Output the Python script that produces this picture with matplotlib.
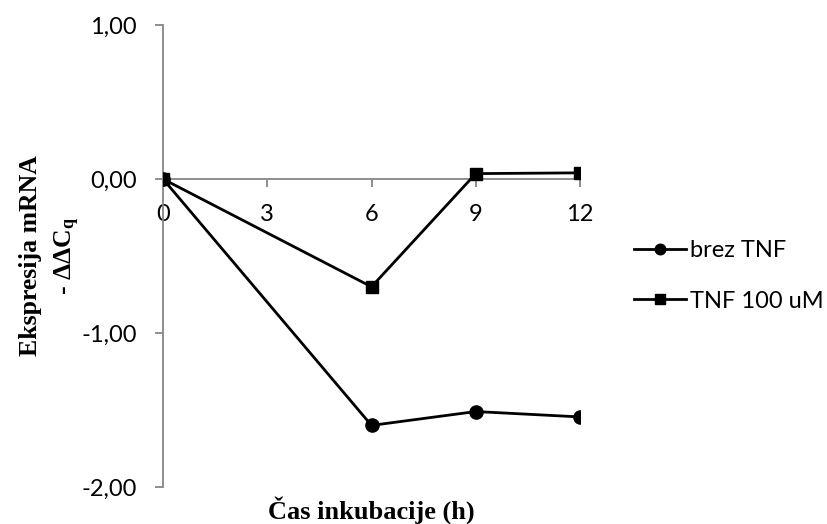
import matplotlib
matplotlib.use("Agg")
import matplotlib.pyplot as plt
from matplotlib.ticker import FixedLocator, FuncFormatter

# Incubation time (h) and relative mRNA expression (-ΔΔCq)
hours = [0, 6, 9, 12]
brez_tnf = [0.00, -1.60, -1.51, -1.545]
tnf_100 = [0.00, -0.70, 0.035, 0.04]
series_names = ["brez TNF", "TNF 100 uM"]
x_ticks = [0, 3, 6, 9, 12]
y_ticks = [1.0, 0.0, -1.0, -2.0]

tick_font = "Lato"
title_font = "Liberation Serif"
axis_grey = "#868686"

fig = plt.figure(figsize=(8.27, 5.24), dpi=100)
ax = fig.add_axes([163 / 827, 1 - 487 / 524, (580 - 163) / 827, (487 - 25) / 524])

ax.plot(hours, brez_tnf, color="black", lw=2.0, marker="o", ms=9.5,
        label=series_names[0], zorder=3)
ax.plot(hours, tnf_100, color="black", lw=2.0, marker="s", ms=9,
        label=series_names[1], zorder=4)

ax.set_xlim(0, 12)
ax.set_ylim(-2, 1)

for s in ["top", "right"]:
    ax.spines[s].set_visible(False)
ax.spines["bottom"].set_position(("data", 0))
ax.spines["bottom"].set_color(axis_grey)
ax.spines["left"].set_color(axis_grey)
ax.spines["bottom"].set_linewidth(1.3)
ax.spines["left"].set_linewidth(1.3)
ax.spines["bottom"].set_zorder(2)

ax.xaxis.set_major_locator(FixedLocator(x_ticks))
ax.yaxis.set_major_locator(FixedLocator(y_ticks))
ax.yaxis.set_major_formatter(FuncFormatter(lambda v, p: f"{v:.2f}".replace(".", ",")))

ax.tick_params(axis="x", direction="out", length=6, width=1.3, color=axis_grey,
               labelsize=17, pad=12)
ax.tick_params(axis="y", direction="out", length=6, width=1.3, color=axis_grey,
               labelsize=17, pad=13)
for lbl in ax.get_xticklabels() + ax.get_yticklabels():
    lbl.set_fontfamily(tick_font)

ax.set_xlabel("Čas inkubacije (h)", fontfamily=title_font, fontweight="bold",
              fontsize=19)
ax.xaxis.set_label_coords(0.5, -0.02)
ax.set_ylabel("Ekspresija mRNA\n- ΔΔC$\\mathregular{_q}$", fontfamily=title_font,
              fontweight="bold", fontsize=18.5, linespacing=1.55)
ax.yaxis.set_label_coords(-0.194, 0.5)

leg = ax.legend(loc="center left", bbox_to_anchor=(1.13, 0.457), frameon=False,
                prop={"family": tick_font, "size": 17}, handlelength=2.2,
                handletextpad=0.15, labelspacing=1.25, markerscale=0.8,
                borderaxespad=0.0, borderpad=0.0)

fig.savefig("out.png", dpi=100, facecolor="white")
